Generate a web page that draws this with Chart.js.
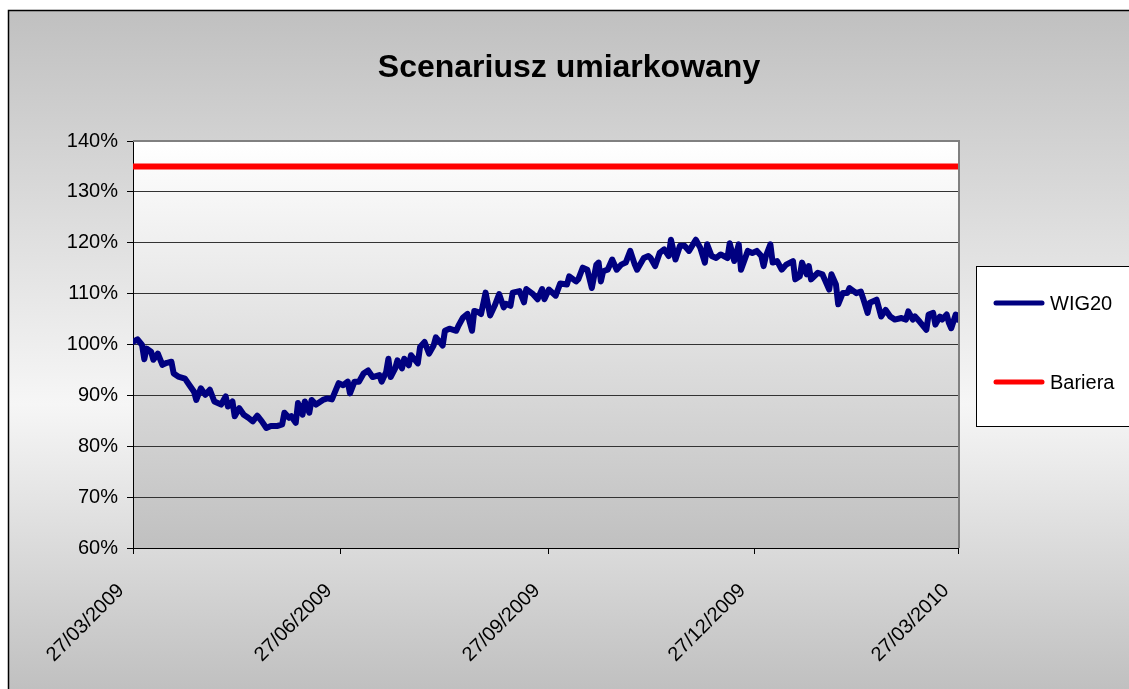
<!DOCTYPE html>
<html lang="pl">
  <head>
    <meta charset="UTF-8" />
    <title>Scenariusz umiarkowany</title>
    <script src="https://cdn.jsdelivr.net/npm/chart.js@4/dist/chart.umd.min.js"></script>
    <style>
      body { margin: 0; background: #fff; }
      canvas { display: block; }
    </style>
  </head>

  <body>
    <canvas id="myChart" width="1129" height="689"></canvas>

    <script>
      const chartTitle = "Scenariusz umiarkowany";

      // days counted from 27/03/2009
      const tickDays = [0, 92, 184, 275, 365];
      const tickLabels = ["27/03/2009", "27/06/2009", "27/09/2009", "27/12/2009", "27/03/2010"];

      const wig20Days = [
        0, 2, 4, 5, 6, 8, 9, 11, 13, 15, 17, 18, 20, 23, 25, 27, 28, 30, 32, 34,
        36, 39, 41, 42, 44, 45, 47, 49, 51, 53, 55, 57, 59, 61, 64, 66, 67, 69, 70, 72,
        73, 75, 76, 78, 79, 81, 84, 86, 88, 91, 93, 95, 96, 98, 100, 102, 104, 106, 109, 110,
        112, 113, 114, 116, 117, 119, 120, 122, 123, 126, 127, 129, 131, 133, 134, 137, 138, 140, 143, 144,
        146, 148, 150, 151, 153, 154, 156, 158, 160, 162, 164, 165, 167, 168, 171, 173, 174, 177, 179, 181,
        182, 184, 187, 189, 192, 193, 196, 197, 199, 201, 203, 205, 206, 207, 208, 210, 212, 214, 216, 218,
        220, 222, 223, 226, 228, 229, 231, 233, 235, 237, 238, 240, 242, 244, 246, 249, 251, 253, 254, 256,
        258, 260, 263, 264, 266, 268, 269, 272, 274, 276, 278, 279, 280, 282, 283, 285, 287, 289, 292, 293,
        295, 296, 298, 299, 300, 303, 305, 306, 308, 309, 311, 312, 314, 316, 317, 320, 322, 323, 325, 326,
        329, 330, 331, 333, 335, 337, 340, 342, 343, 345, 346, 348, 351, 352, 354, 355, 357, 358, 360, 361,
        362, 364, 365
      ];
      const wig20Values = [
        100.5, 101.0, 99.9, 97.1, 99.2, 98.6, 97.0, 98.2, 96.0, 96.4, 96.6, 94.3, 93.7, 93.3, 92.0, 90.7, 89.1, 91.4, 90.1, 91.1,
        88.8, 88.2, 89.8, 87.8, 88.8, 85.9, 87.5, 86.2, 85.6, 84.9, 86.0, 84.9, 83.6, 84.0, 84.0, 84.3, 86.6, 85.6, 85.9, 84.6,
        88.5, 86.2, 88.8, 86.6, 89.1, 88.2, 89.1, 89.4, 89.2, 92.4, 92.0, 92.7, 90.4, 92.7, 92.7, 94.3, 94.9, 93.6, 94.0, 92.7,
        94.6, 97.2, 93.6, 95.3, 96.9, 95.3, 97.2, 95.9, 97.9, 96.3, 99.5, 100.5, 98.2, 99.8, 101.4, 99.8, 102.7, 103.1, 102.7, 103.7,
        105.3, 106.0, 102.7, 106.6, 106.3, 106.0, 110.2, 105.7, 107.6, 109.9, 107.3, 108.0, 107.6, 110.2, 110.5, 108.3, 110.9, 109.9, 108.9, 110.9,
        108.9, 110.8, 109.6, 112.0, 111.8, 113.4, 112.4, 112.8, 115.1, 114.7, 111.1, 115.7, 116.1, 112.4, 114.4, 114.7, 116.7, 114.7, 115.7, 116.1,
        118.4, 115.7, 114.7, 117.0, 117.4, 117.0, 115.4, 118.0, 118.7, 117.4, 120.6, 116.7, 119.4, 119.4, 118.4, 120.6, 119.0, 116.1, 119.7, 117.4,
        117.0, 117.7, 117.0, 119.9, 116.4, 119.7, 114.7, 118.4, 118.0, 118.4, 117.4, 115.4, 117.4, 119.7, 116.1, 116.4, 114.7, 115.7, 116.4, 112.8,
        113.4, 116.1, 113.8, 115.4, 112.8, 114.1, 113.8, 112.8, 110.8, 113.8, 111.8, 107.9, 110.1, 110.1, 111.1, 110.1, 110.4, 109.1, 106.2, 108.2,
        108.8, 107.2, 105.5, 106.8, 105.5, 104.9, 105.2, 104.9, 106.5, 104.9, 105.5, 104.5, 102.9, 105.9, 106.2, 103.9, 105.5, 104.9, 105.9, 104.2,
        103.2, 105.9, 104.9
      ];

      const barrierDays = [0, 365];
      const barrierValues = [135, 135];

      const FONT = "'Liberation Sans', Arial, sans-serif";
      Chart.defaults.font.family = FONT;
      Chart.defaults.font.size = 20;
      Chart.defaults.color = "#000";

      // backgrounds, frame, title and legend drawn the Excel way
      const excelLook = {
        id: "excelLook",
        beforeDraw(chart) {
          const { ctx, width, height, chartArea: a } = chart;
          ctx.save();
          ctx.fillStyle = "#fff";
          ctx.fillRect(0, 0, width, height);

          const g = ctx.createLinearGradient(0, 10, 0, height);
          g.addColorStop(0, "#c0c0c0");
          g.addColorStop(0.58, "#f6f6f6");
          g.addColorStop(1, "#c0c0c0");
          ctx.fillStyle = g;
          ctx.fillRect(8, 10, width - 8, height - 10);
          ctx.strokeStyle = "#000";
          ctx.lineWidth = 1.5;
          ctx.beginPath();
          ctx.moveTo(width, 10.5);
          ctx.lineTo(8.5, 10.5);
          ctx.lineTo(8.5, height);
          ctx.stroke();

          ctx.fillStyle = "#000";
          ctx.font = "bold 32px " + FONT;
          ctx.textAlign = "center";
          ctx.textBaseline = "alphabetic";
          ctx.fillText(chartTitle, 569, 77);

          const pg = ctx.createLinearGradient(0, a.top, 0, a.bottom);
          pg.addColorStop(0, "#ffffff");
          pg.addColorStop(1, "#c0c0c0");
          ctx.fillStyle = pg;
          ctx.fillRect(a.left, a.top, a.right - a.left, a.bottom - a.top);
          ctx.restore();
        },
        beforeDatasetsDraw(chart) {
          const { ctx, chartArea: a } = chart;
          ctx.save();
          ctx.strokeStyle = "#808080";
          ctx.lineWidth = 2;
          ctx.beginPath();
          ctx.moveTo(a.left, a.top);
          ctx.lineTo(a.right + 1, a.top);
          ctx.lineTo(a.right + 1, a.bottom);
          ctx.stroke();
          ctx.restore();
        },
        afterDraw(chart) {
          const ctx = chart.ctx;
          ctx.save();
          ctx.fillStyle = "#fff";
          ctx.fillRect(976.5, 266.5, 200, 160);
          ctx.strokeStyle = "#000";
          ctx.lineWidth = 1;
          ctx.strokeRect(976.5, 266.5, 200, 160);
          const rows = [303, 382];
          chart.data.datasets.forEach((ds, i) => {
            ctx.strokeStyle = ds.borderColor;
            ctx.lineWidth = 5;
            ctx.lineCap = "round";
            ctx.beginPath();
            ctx.moveTo(996, rows[i]);
            ctx.lineTo(1042, rows[i]);
            ctx.stroke();
            ctx.fillStyle = "#000";
            ctx.font = "20px " + FONT;
            ctx.textBaseline = "middle";
            ctx.fillText(ds.label, 1050, rows[i] + 1);
          });
          ctx.restore();
        },
      };

      const ctx = document.getElementById("myChart");

      const config = {
        type: "line",
        data: {
          datasets: [
            {
              label: "WIG20",
              data: wig20Days.map((d, i) => ({ x: d, y: wig20Values[i] })),
              borderColor: "#000080",
              borderWidth: 6,
              borderJoinStyle: "round",
              borderCapStyle: "round",
              pointRadius: 0,
              tension: 0,
            },
            {
              label: "Bariera",
              data: barrierDays.map((d, i) => ({ x: d, y: barrierValues[i] })),
              borderColor: "#ff0000",
              borderWidth: 6,
              borderCapStyle: "round",
              pointRadius: 0,
            },
          ],
        },
        options: {
          responsive: false,
          animation: false,
          layout: { padding: { left: 0, right: 171, top: 141, bottom: 0 } },
          plugins: {
            legend: { display: false },
            tooltip: { enabled: false },
            title: { display: false },
          },
          scales: {
            x: {
              type: "linear",
              min: 0,
              max: 365,
              afterBuildTicks: (scale) => {
                scale.ticks = tickDays.map((v) => ({ value: v }));
              },
              afterFit: (scale) => {
                scale.height = 141;
              },
              ticks: {
                autoSkip: false,
                minRotation: 45,
                maxRotation: 45,
                padding: 25,
                labelOffset: -12,
                callback: (v) => tickLabels[tickDays.indexOf(v)],
              },
              grid: { drawOnChartArea: false, color: "#000", tickLength: 6 },
              border: { color: "#000" },
            },
            y: {
              min: 60,
              max: 140,
              afterFit: (scale) => {
                scale.width = 133;
              },
              ticks: {
                stepSize: 10,
                padding: 9,
                callback: (v) => v + "%",
              },
              grid: {
                color: (c) => (c.tick && c.tick.value === 140 ? "#808080" : "#333"),
                tickColor: "#000",
                tickLength: 6,
              },
              border: { color: "#000" },
            },
          },
        },
        plugins: [excelLook],
      };

      const myChart = new Chart(ctx, config);
    </script>
  </body>
</html>
